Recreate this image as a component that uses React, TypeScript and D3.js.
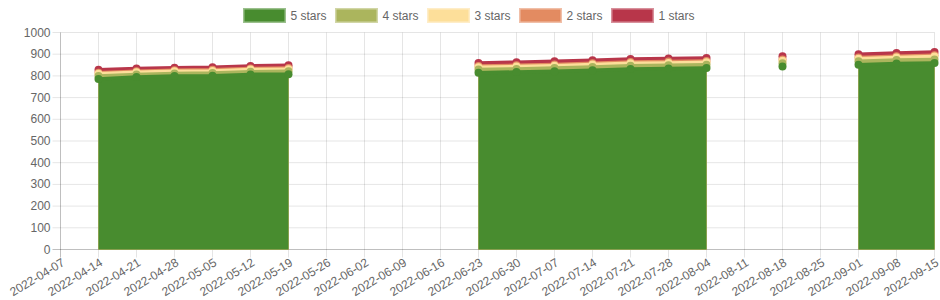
import React from "react";
import * as d3 from "d3";

// Weekly review snapshots (null = no data that week)
const weeks = [
  "2022-04-07", "2022-04-14", "2022-04-21", "2022-04-28", "2022-05-05", "2022-05-12",
  "2022-05-19", "2022-05-26", "2022-06-02", "2022-06-09", "2022-06-16", "2022-06-23",
  "2022-06-30", "2022-07-07", "2022-07-14", "2022-07-21", "2022-07-28", "2022-08-04",
  "2022-08-11", "2022-08-18", "2022-08-25", "2022-09-01", "2022-09-08", "2022-09-15",
];

type V = number | null;
const _ = null;

const fiveStars: V[] = [_, 786, 795, 799, 801, 807, 808, _, _, _, _, 815, 818, 822, 826, 832, 834, 836, _, 843, _, 851, 857, 860];
const fourStars: V[] = [_, 13, 12, 12, 12, 12, 13, _, _, _, _, 14, 14, 14, 15, 15, 15, 15, _, 15, _, 16, 16, 16];
const threeStars: V[] = [_, 11, 10, 10, 10, 10, 10, _, _, _, _, 11, 11, 11, 11, 11, 11, 12, _, 12, _, 12, 12, 13];
const twoStars: V[] = [_, 5, 5, 5, 5, 5, 5, _, _, _, _, 6, 6, 6, 6, 6, 6, 6, _, 6, _, 6, 6, 6];
const oneStar: V[] = [_, 13, 12, 12, 12, 12, 13, _, _, _, _, 14, 14, 14, 14, 14, 14, 14, _, 14, _, 15, 15, 15];

const seriesNames = ["5 stars", "4 stars", "3 stars", "2 stars", "1 stars"];
const seriesValues = [fiveStars, fourStars, threeStars, twoStars, oneStar];
const seriesColors = ["#488c2f", "#abb55d", "#fddf9a", "#e38b61", "#b8364a"];

const yTicks = [0, 100, 200, 300, 400, 500, 600, 700, 800, 900, 1000];

const W = 940;
const H = 300;
const left = 60.5;
const right = 934.5;
const top = 32.5;
const bottom = 249.5;
const FONT = "'Helvetica Neue', Helvetica, Arial, 'Liberation Sans', sans-serif";
const TEXT = "#666";
const GRID = "rgba(0,0,0,0.1)";
const AXIS = "rgba(0,0,0,0.25)";

export default function App() {
  const x = d3.scalePoint<string>().domain(weeks).range([left, right]);
  const y = d3.scaleLinear().domain([0, 1000]).range([bottom, top]);

  // cumulative stack tops per series
  const stacked: V[][] = [];
  seriesValues.forEach((vals, si) => {
    stacked.push(
      vals.map((v, i) => {
        if (v == null) return null;
        const below = si === 0 ? 0 : (stacked[si - 1][i] as number);
        return below + v;
      })
    );
  });

  const area = d3
    .area<V>()
    .defined((d) => d != null)
    .x((_d, i) => x(weeks[i]) as number)
    .y0(y(0))
    .y1((d) => y(d as number));
  const line = d3
    .line<V>()
    .defined((d) => d != null)
    .x((_d, i) => x(weeks[i]) as number)
    .y((d) => y(d as number));

  // drawn last series first so 5 stars ends up on top
  const order = [4, 3, 2, 1, 0];

  const legendStart = 244.5;
  const legendStep = 92;

  return (
    <svg width={W} height={H} style={{ display: "block", position: "absolute", left: 0, top: 0 }}>
      <rect width={W} height={H} fill="#fff" />
      {/* legend */}
      {seriesNames.map((name, i) => (
        <g key={name}>
          <rect
            x={legendStart + i * legendStep}
            y={9.5}
            width={40}
            height={12}
            fill={seriesColors[i]}
            stroke={seriesColors[i]}
            strokeOpacity={0.55}
            strokeWidth={3}
          />
          <text
            x={legendStart + i * legendStep + 46}
            y={15.5}
            dominantBaseline="central"
            fontFamily={FONT}
            fontSize={12}
            fill={TEXT}
          >
            {name}
          </text>
        </g>
      ))}

      {/* horizontal grid + y ticks */}
      {yTicks.map((t) => (
        <g key={t}>
          <line x1={left - 8} x2={right} y1={y(t)} y2={y(t)} stroke={t === 0 ? AXIS : GRID} />
          <text
            x={left - 10}
            y={y(t)}
            textAnchor="end"
            dominantBaseline="central"
            fontFamily={FONT}
            fontSize={12}
            fill={TEXT}
          >
            {t}
          </text>
        </g>
      ))}

      {/* vertical grid + x ticks */}
      {weeks.map((w, i) => {
        const px = x(w) as number;
        return (
          <g key={w}>
            <line x1={px} x2={px} y1={top} y2={bottom + 8} stroke={i === 0 ? AXIS : GRID} />
            <text
              transform={`translate(${px + 3},${bottom + 12}) rotate(-31)`}
              textAnchor="end"
              dominantBaseline="central"
              fontFamily={FONT}
              fontSize={12}
              fill={TEXT}
            >
              {w}
            </text>
          </g>
        );
      })}

      {/* stacked series */}
      {order.map((si) => (
        <g key={seriesNames[si]}>
          <path d={area(stacked[si]) || ""} fill={seriesColors[si]} />
          <path
            d={line(stacked[si]) || ""}
            fill="none"
            stroke={seriesColors[si]}
            strokeWidth={3.5}
            strokeLinejoin="round"
          />
          {stacked[si].map((v, i) =>
            v == null ? null : (
              <circle key={i} cx={x(weeks[i])} cy={y(v)} r={4} fill={seriesColors[si]} />
            )
          )}
        </g>
      ))}
    </svg>
  );
}
